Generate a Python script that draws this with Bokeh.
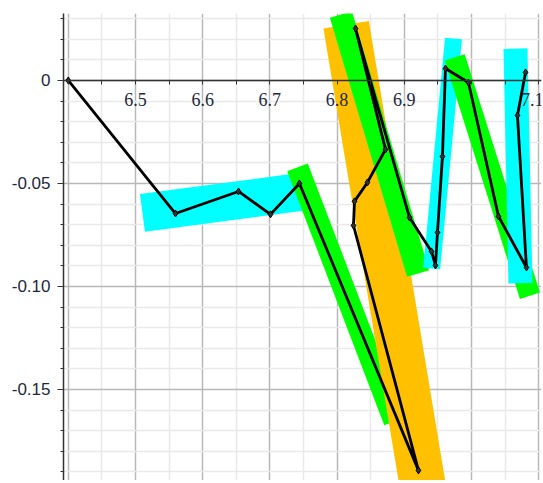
from bokeh.plotting import figure
from bokeh.models import FixedTicker, Range1d
from bokeh.embed import file_html
from bokeh.resources import INLINE

# ---- data ----
path_x = [6.400, 6.5595, 6.6533, 6.7009, 6.7440, 6.9211, 6.8244, 6.8259, 6.8452, 6.8720,
          6.8274, 6.9077, 6.9405, 6.9464, 6.9494, 6.9568, 6.9613, 6.9955, 7.0402, 7.0818,
          7.0684, 7.0804]
path_y = [0.0, -0.0646, -0.0539, -0.0650, -0.0500, -0.1893, -0.0704, -0.0587, -0.0495, -0.0335,
          0.0252, -0.0665, -0.0830, -0.0898, -0.0738, -0.0369, 0.0058, -0.0010, -0.0660, -0.0908,
          -0.0170, 0.0039]

# highlight bands (segment end points)
cyan1_x = [6.5104, 6.7455]
cyan1_y = [-0.0643, -0.0541]
green1_x = [6.7411, 6.8855]
green1_y = [-0.0422, -0.1655]
orange_x = [6.8135, 6.9360]
orange_y = [0.0270, -0.2136]
green2_x = [6.8057, 6.9205]
green2_y = [0.0320, -0.0937]
cyan2_x = [6.9408, 6.9732]
cyan2_y = [-0.0913, 0.0204]
green3_x = [6.9750, 7.0870]
green3_y = [0.0112, -0.1045]
cyan3_x = [7.0655, 7.0729]
cyan3_y = [0.0155, -0.0985]

x_ticks = [6.4, 6.5, 6.6, 6.7, 6.8, 6.9, 7.0, 7.1]
x_tick_labels = ["", "6.5", "6.6", "6.7", "6.8", "6.9", "", "7.1"]
x_minor = [6.45, 6.55, 6.65, 6.75, 6.85, 6.95, 7.05]
y_ticks = [-0.15, -0.1, -0.05, 0.0]
y_tick_labels = ["-0.15", "-0.10", "-0.05", "0"]
y_minor = [-0.19, -0.18, -0.17, -0.16, -0.14, -0.13, -0.12, -0.11, -0.09, -0.08, -0.07,
           -0.06, -0.04, -0.03, -0.02, -0.01, 0.01, 0.02, 0.03]

p = figure(output_backend="svg", toolbar_location=None,
           frame_width=478, frame_height=467,
           min_border_left=63, min_border_right=2, min_border_top=13, min_border_bottom=0,
           x_range=Range1d(6.3929, 7.1042), y_range=Range1d(-0.1942, 0.0325))
p.outline_line_color = None
p.background_fill_color = "white"
p.border_fill_color = "white"

# grids
for g in (p.xgrid, p.ygrid):
    g.grid_line_color = "#b8b8b8"
    g.grid_line_width = 1.5
    g.minor_grid_line_color = "#e9e9e9"
    g.minor_grid_line_width = 1.5

# x axis crossing at y = 0
xa = p.xaxis[0]
xa.ticker = FixedTicker(ticks=x_ticks, minor_ticks=x_minor)
xa.major_label_overrides = {t: l for t, l in zip(x_ticks, x_tick_labels)}
xa.fixed_location = 0
xa.axis_line_color = "#333333"
xa.axis_line_width = 1.5
xa.major_tick_out = 4
xa.major_tick_in = 0
xa.minor_tick_out = 4
xa.minor_tick_in = 0
xa.major_tick_line_color = "#333333"
xa.minor_tick_line_color = "#333333"
xa.major_label_text_font = "Liberation Serif"
xa.major_label_text_font_size = "18px"
xa.major_label_text_color = "#22283f"
xa.major_label_standoff = 9

ya = p.yaxis[0]
ya.ticker = FixedTicker(ticks=y_ticks, minor_ticks=y_minor)
ya.major_label_overrides = {t: l for t, l in zip(y_ticks, y_tick_labels)}
ya.axis_line_color = "#333333"
ya.axis_line_width = 1.5
ya.major_tick_out = 6
ya.major_tick_in = 0
ya.minor_tick_out = 3
ya.minor_tick_in = 0
ya.major_tick_line_color = "#333333"
ya.minor_tick_line_color = "#333333"
ya.major_label_text_font = "Liberation Sans"
ya.major_label_text_font_size = "17px"
ya.major_label_text_color = "#22283f"
ya.major_label_standoff = 7

# bands (drawing order as in reference)
bands = [
    (cyan1_x, cyan1_y, "#00ffff", 38),
    (green1_x, green1_y, "#00ff00", 22),
    (orange_x, orange_y, "#ffc000", 46),
    (green2_x, green2_y, "#00ff00", 23),
    (cyan2_x, cyan2_y, "#00ffff", 17),
    (green3_x, green3_y, "#00ff00", 21),
    (cyan3_x, cyan3_y, "#00ffff", 24),
]
for bx, by, col, w in bands:
    p.line(bx, by, line_color=col, line_width=w, line_cap="butt")

p.line(path_x, path_y, line_color="black", line_width=2.8, line_join="round")
p.scatter(path_x, path_y, marker="diamond", size=7, fill_color="#333333", line_color="black")

open("out.html", "w").write(file_html(p, INLINE))
